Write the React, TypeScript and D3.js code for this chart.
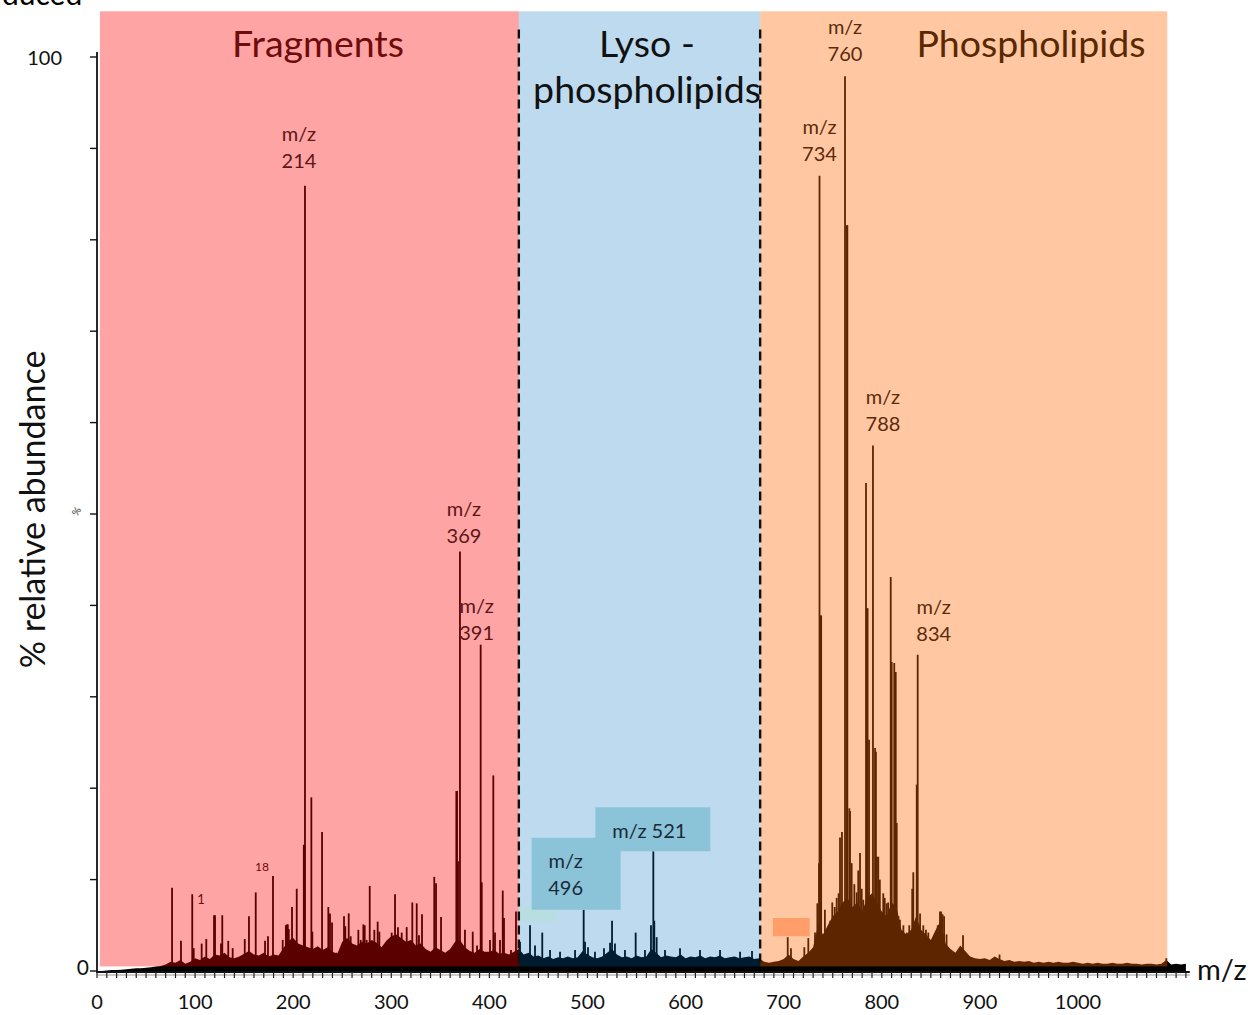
import * as d3 from 'd3';

const WIDTH = 1251;
const HEIGHT = 1015;
const FONT = 'Lato, Carlito, "Open Sans", sans-serif';

// noise floor of the spectrum, % relative abundance, one value every 5 m/z from 0
const floorStart = 0;
const floorStep = 5;
const floorLevels = [
  0.0, 0.0, 0.05, 0.1, 0.1, 0.15, 0.2, 0.25, 0.3, 0.3, 0.35, 0.4, 0.5, 0.55, 0.7, 1.0, 0.9, 1.2, 0.8, 1.0,
  1.4, 1.2, 1.6, 1.3, 1.8, 1.7, 2.0, 1.5, 1.4, 1.6, 1.9, 2.2, 1.8, 1.7, 2.0, 1.6, 1.8, 1.7, 2.5, 3.3,
  3.6, 3.0, 2.8, 2.6, 2.4, 2.7, 2.3, 2.6, 2.1, 1.9, 3.2, 3.6, 3.0, 2.8, 3.2, 3.0, 3.4, 3.1, 2.6, 3.3,
  3.8, 4.0, 3.6, 3.2, 3.4, 2.8, 3.0, 2.4, 2.1, 2.6, 2.3, 2.0, 2.4, 3.2, 3.4, 2.6, 2.2, 2.0, 2.4, 2.1,
  2.1, 2.3, 1.9, 2.0, 1.8, 2.1, 2.4, 1.8, 2.0, 1.6, 1.7, 1.4, 1.6, 1.3, 1.5, 1.4, 1.6, 1.4, 1.5, 2.2,
  1.8, 1.5, 1.4, 1.6, 2.0, 2.4, 1.8, 1.5, 1.6, 1.4, 1.7, 1.5, 1.6, 2.4, 2.0, 1.5, 1.7, 1.6, 1.5, 1.8,
  1.4, 1.6, 1.5, 1.7, 1.4, 1.6, 1.5, 1.7, 1.4, 1.5, 1.6, 1.4, 1.5, 1.6, 1.3, 1.4, 1.0, 0.9, 1.0, 1.1,
  1.3, 1.8, 1.3, 1.1, 1.6, 2.0, 2.6, 5.0, 4.0, 5.0, 6.0, 6.5, 7.5, 8.0, 7.0, 7.5, 6.5, 8.0, 8.5, 7.5,
  6.5, 6.0, 7.5, 7.0, 4.5, 4.0, 4.5, 6.0, 4.5, 4.0, 3.4, 4.5, 5.5, 3.0, 2.4, 2.0, 2.8, 2.2, 1.6, 1.4,
  1.3, 1.4, 1.2, 1.6, 1.3, 1.1, 1.2, 1.0, 1.1, 1.0, 1.1, 0.9, 1.0, 0.9, 1.0, 0.9, 1.0, 0.9, 0.9, 1.0,
  0.9, 0.8, 0.9, 0.8, 0.9, 0.8, 0.8, 0.9, 0.8, 0.8, 0.9, 0.8, 0.8, 0.7, 0.8, 0.8, 0.7, 0.8, 1.2, 0.7,
  0.8, 0.7, 0.8,
];

// [m/z, % relative abundance]
const fragmentPeaks: [number, number][] = [
  [76.5, 9.1], [85.6, 3.3], [97.1, 8.4], [98.6, 2.5], [106.7, 3.0], [111.4, 3.5], [119.3, 6.1], [120.3, 6.1],
  [126.4, 3.0], [127.7, 6.1], [133.8, 3.3], [138.3, 2.5], [150.6, 3.5], [154.9, 6.0], [161.8, 8.6], [171.3, 3.3],
  [174.3, 3.8], [179.4, 10.4], [189.3, 3.4], [192.5, 5.0], [193.5, 5.1], [194.5, 5.1], [195.5, 4.6], [198.8, 7.0],
  [203.6, 9.0], [210.8, 13.8], [211.5, 13.8], [212.0, 85.9], [218.5, 19.0], [219.5, 4.3], [229.4, 15.2], [235.8, 7.0],
  [237.5, 6.3], [239.6, 5.3], [244.3, 2.0], [251.8, 6.0], [253.1, 4.9], [256.6, 6.3], [258.6, 3.8], [266.4, 4.5],
  [268.8, 3.4], [271.5, 5.1], [272.9, 5.0], [274.9, 3.4], [278.0, 9.3], [282.7, 4.5], [286.1, 5.4], [287.8, 4.3],
  [300.4, 4.2], [303.8, 8.4], [306.8, 4.8], [310.6, 4.2], [315.7, 4.8], [321.4, 7.5], [325.9, 7.4], [328.2, 3.9],
  [331.3, 6.2], [343.8, 10.3], [345.6, 9.6], [350.7, 5.9], [357.8, 2.1], [361.9, 2.3], [366.3, 19.7], [367.0, 19.7],
  [368.0, 12.0], [370.0, 45.9], [375.1, 4.5], [383.0, 4.3], [387.4, 2.8], [391.1, 35.7], [392.2, 9.7], [400.6, 3.4],
  [404.0, 21.4], [405.7, 4.2], [410.8, 3.4], [413.6, 8.8], [414.9, 5.8], [422.0, 2.3], [427.1, 6.5],
];

const lysoPeaks: [number, number][] = [
  [431.2, 3.2], [441.4, 5.0], [446.5, 2.8], [453.9, 4.2], [461.8, 2.3], [472.0, 2.1], [487.3, 2.3], [496.1, 6.7],
  [497.5, 3.2], [500.5, 2.6], [507.6, 2.1], [516.8, 2.5], [523.0, 3.1], [525.0, 5.5], [528.0, 3.0], [538.2, 2.3],
  [549.1, 4.2], [558.6, 2.3], [564.7, 5.0], [567.1, 13.1], [568.1, 5.5], [570.5, 3.7], [579.0, 2.3], [594.3, 2.5],
  [614.7, 2.3], [635.1, 2.3], [655.5, 2.1], [667.7, 2.2],
];

const phospholipidPeaks: [number, number][] = [
  [704.1, 3.7], [707.4, 2.5], [721.0, 2.6], [725.1, 3.6], [731.9, 4.2], [734.3, 7.4], [736.0, 11.8], [736.5, 87.0],
  [737.5, 38.9], [738.2, 38.9], [742.0, 6.7], [745.5, 4.5], [747.5, 5.5], [749.5, 7.5], [752.0, 7.0], [754.0, 8.0],
  [756.0, 8.5], [757.4, 14.6], [759.4, 15.2], [762.5, 97.9], [764.3, 81.6], [764.9, 81.6], [766.9, 17.8], [767.6, 17.5],
  [769.3, 11.8], [772.0, 9.5], [774.4, 8.6], [776.0, 11.0], [777.8, 12.9], [779.5, 9.0], [781.1, 7.8], [783.9, 53.4],
  [784.9, 39.7], [785.5, 39.7], [787.0, 25.3], [791.0, 57.5], [793.1, 24.4], [794.0, 24.0], [795.0, 12.5], [796.4, 12.5],
  [798.0, 10.0], [801.5, 8.5], [803.0, 8.0], [805.0, 7.4], [806.5, 7.5], [809.1, 43.1], [810.1, 33.8], [812.7, 33.7],
  [814.2, 32.7], [815.2, 16.2], [817.0, 6.0], [818.5, 5.6], [822.0, 5.0], [825.4, 4.2], [828.0, 5.0], [831.0, 9.0],
  [832.1, 10.8], [835.6, 20.4], [836.6, 34.6], [839.0, 6.3], [842.3, 5.0], [845.0, 4.5], [847.4, 4.2], [852.5, 3.1],
  [857.0, 5.0], [859.3, 6.5], [860.5, 6.5], [862.0, 6.2], [863.5, 6.0], [866.0, 4.0], [882.8, 3.9], [920.0, 1.8],
  [1090.0, 1.4],
];

const regions = [
  { key: 'fragments', from: 3, to: 430 },
  { key: 'lyso', from: 430, to: 676 },
  { key: 'phospholipids', from: 676, to: 1091 },
];

const regionTitles = {
  fragments: ['Fragments'],
  lyso: ['Lyso -', 'phospholipids'],
  phospholipids: ['Phospholipids'],
};

// labelled peaks: position of the peak, text of the label
const peakLabels = [
  { mz: 212.0, value: 85.9, text: '214', region: 'fragments' },
  { mz: 370.0, value: 45.9, text: '369', region: 'fragments' },
  { mz: 391.1, value: 35.7, text: '391', region: 'fragments' },
  { mz: 736.5, value: 87.0, text: '734', region: 'phospholipids' },
  { mz: 762.5, value: 97.9, text: '760', region: 'phospholipids' },
  { mz: 791.0, value: 57.5, text: '788', region: 'phospholipids' },
  { mz: 836.6, value: 34.6, text: '834', region: 'phospholipids' },
];

const boxedLabels = [
  { mz: 496.1, value: 6.7, lines: ['m/z', '496'] },
  { mz: 567.1, value: 13.1, lines: ['m/z 521'] },
];

const yTicks = d3.range(0, 101, 10);
const xLabels = d3.range(0, 1001, 100);
const xMinorTicks = d3.range(0, 1111, 10);

const tint = {
  fragments: { fill: '#ff0000', opacity: 0.357 },
  lyso: { fill: '#006ebc', opacity: 0.255 },
  phospholipids: { fill: '#ff6800', opacity: 0.365 },
};
const titleColor = { fragments: '#6e0b0b', lyso: '#111111', phospholipids: '#5a2800' };
const labelColor = { fragments: '#5c1616', phospholipids: '#5c2a0a' };

// nudges of the peak labels relative to the peak top, px
const labelNudge = {
  '214': [-6, -18], '369': [4, -8], '391': [-4, -5],
  '734': [0, -15], '760': [0, -15], '788': [10, -14], '834': [16, -14],
};

export default function App() {
  const x = d3.scaleLinear().domain([0, 1000]).range([97, 1078]);
  const y = d3.scaleLinear().domain([0, 100]).range([971, 57]);

  const floor = floorLevels.map((v, i) => [floorStart + i * floorStep, v] as [number, number]);
  const floorArea = d3.area<[number, number]>()
    .x((d) => x(d[0]))
    .y0(y(0))
    .y1((d) => y(d[1]))
    .curve(d3.curveLinear);

  const allPeaks = [...fragmentPeaks, ...lysoPeaks, ...phospholipidPeaks];
  const axisY = y(0) + 1;
  const top = y(105);
  const bottom = y(0.5);

  return (
    <svg
      width={WIDTH}
      height={HEIGHT}
      style={{ position: 'absolute', left: 0, top: 0, background: '#fff', fontFamily: FONT }}
    >
      <text x={2} y={5} fontSize={30} fill="#000">duced</text>

      {/* spectrum */}
      <g>
        <path d={floorArea(floor) || ''} fill="#000" />
        {allPeaks.map(([mz, v], i) => (
          <line key={i} x1={x(mz)} x2={x(mz)} y1={y(0)} y2={y(v)} stroke="#000" strokeWidth={1.8} />
        ))}
      </g>

      {/* tinted regions */}
      {regions.map((r) => (
        <rect
          key={r.key}
          x={x(r.from)}
          y={top}
          width={x(r.to) - x(r.from)}
          height={bottom - top}
          fill={tint[r.key].fill}
          fillOpacity={tint[r.key].opacity}
        />
      ))}

      {/* stray boxes of the original figure */}
      <rect x={x(430)} y={y(7.2)} width={x(469) - x(430)} height={y(5.4) - y(7.2)} fill="#b9dee2" />
      <rect x={x(689)} y={y(5.8)} width={x(726.5) - x(689)} height={y(3.8) - y(5.8)} fill="#ff9e6a" />

      {/* boxed labels of the lyso region */}
      {boxedLabels.map((b) => {
        const px = x(b.mz);
        const py = y(b.value);
        if (b.lines.length === 1) {
          return (
            <g key={b.mz}>
              <rect x={px - 58} y={py - 44} width={115} height={44} fill="#8bc4d8" />
              <text x={px - 4} y={py - 13} fontSize={20} textAnchor="middle" fill="#1a2a38">{b.lines[0]}</text>
            </g>
          );
        }
        return (
          <g key={b.mz}>
            <rect x={px - 52} y={py - 72} width={89} height={72} fill="#8bc4d8" />
            {b.lines.map((t, i) => (
              <text key={t} x={px - 18} y={py - 42 + i * 27} fontSize={20} textAnchor="middle" fill="#1a2a38">{t}</text>
            ))}
          </g>
        );
      })}

      {/* region borders */}
      {[430, 676].map((mz) => (
        <line
          key={mz}
          x1={x(mz)}
          x2={x(mz)}
          y1={y(103)}
          y2={bottom}
          stroke="#111"
          strokeWidth={2.4}
          strokeDasharray="9 5"
        />
      ))}

      {/* y axis */}
      <line x1={x(0)} x2={x(0)} y1={52} y2={axisY + 1} stroke="#111" strokeWidth={1.8} />
      {yTicks.map((t) => (
        <line key={t} x1={x(0) - 7} x2={x(0)} y1={y(t)} y2={y(t)} stroke="#111" strokeWidth={1.4} />
      ))}
      <text x={62} y={65} fontSize={20} textAnchor="end" fill="#111">100</text>
      <text x={89} y={975} fontSize={21} textAnchor="end" fill="#111">0</text>
      <text x={76} y={515} fontSize={10} textAnchor="middle" fill="#333" transform="rotate(-60 76 511)">%</text>
      <text
        transform={`translate(45, ${y(50.5)}) rotate(-90)`}
        fontSize={34}
        textAnchor="middle"
        fill="#111"
      >
        % relative abundance
      </text>

      {/* x axis */}
      <line x1={x(0)} x2={x(1114)} y1={axisY} y2={axisY} stroke="#111" strokeWidth={2} />
      <line x1={x(0)} x2={x(1114)} y1={axisY + 3} y2={axisY + 3} stroke="#999" strokeWidth={1} />
      {xMinorTicks.map((t) => (
        <line key={t} x1={x(t)} x2={x(t)} y1={axisY} y2={axisY + 6} stroke="#222" strokeWidth={1.2} />
      ))}
      {xLabels.map((t) => (
        <text key={t} x={x(t)} y={1009} fontSize={20} textAnchor="middle" fill="#111">{t}</text>
      ))}
      <text x={1197} y={980} fontSize={29} fill="#111">m/z</text>

      {/* region titles */}
      <text x={318} y={57} fontSize={37.5} textAnchor="middle" fill={titleColor.fragments}>
        {regionTitles.fragments[0]}
      </text>
      {regionTitles.lyso.map((t, i) => (
        <text key={t} x={647} y={57 + i * 46} fontSize={37.5} textAnchor="middle" fill={titleColor.lyso}>{t}</text>
      ))}
      <text x={1031} y={57} fontSize={37.5} textAnchor="middle" fill={titleColor.phospholipids}>
        {regionTitles.phospholipids[0]}
      </text>

      {/* peak labels */}
      {peakLabels.map((p) => {
        const [dx, dy] = labelNudge[p.text];
        const px = x(p.mz) + dx;
        const py = y(p.value) + dy;
        return (
          <g key={p.text} fill={labelColor[p.region]} fontSize={20} textAnchor="middle">
            <text x={px} y={py - 27}>m/z</text>
            <text x={px} y={py}>{p.text}</text>
          </g>
        );
      })}
      <text x={262} y={871} fontSize={12} fill="#6e0b0b" textAnchor="middle">18</text>
      <text x={201} y={904} fontSize={13} fill="#6e0b0b" textAnchor="middle">1</text>
    </svg>
  );
}
